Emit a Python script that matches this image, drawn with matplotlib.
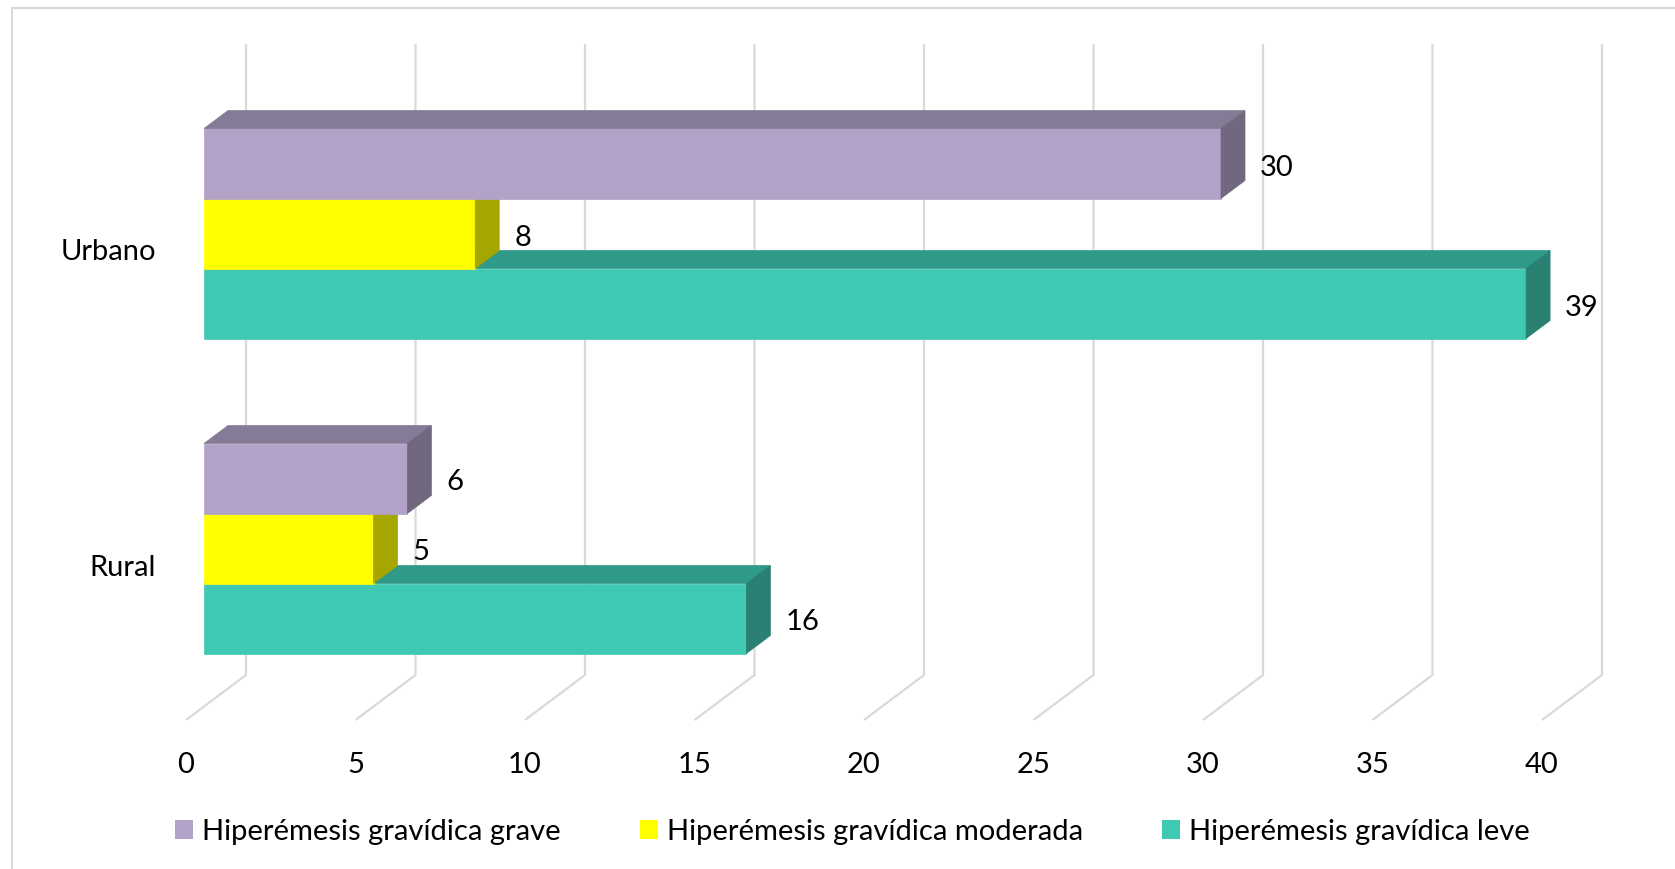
import numpy as np
import matplotlib.pyplot as plt
from matplotlib.patches import Polygon, Patch, Rectangle

plt.rcParams['font.family'] = ['Lato', 'DejaVu Sans']

# data
categories = ['Rural', 'Urbano']
series = ['Hiperémesis gravídica grave', 'Hiperémesis gravídica moderada',
          'Hiperémesis gravídica leve']
grave = [6, 30]
moderada = [5, 8]
leve = [16, 39]
xticks = np.arange(0, 45, 5)

# colours: front, top, side
col_grave = ('#B3A2C7', '#857B97', '#71687F')
col_mod = ('#FFFF00', '#CCCC00', '#A6A600')
col_leve = ('#40C9B2', '#2F9A88', '#2A8072')

W, H = 1675, 869
PX = 33.9          # pixels per unit on x
X0 = 204           # pixel of value 0 on front plane
Y0 = 548.5         # pixel of first category centre
DY = 315           # pixels between categories
FS = 21
TXT_DOWN = 4 / DY  # small text baseline correction

def py(p):
    # pixel row -> data y
    return (Y0 - p) / DY

h = 70 / DY
ddx, ddy = 24 / PX, 18 / DY

fig = plt.figure(figsize=(W / 100, H / 100), dpi=100)
ax = fig.add_axes([0, 0, 1, 1])
ax.set_xlim(-X0 / PX, (W - X0) / PX)
ax.set_ylim(py(H), py(0))
ax.axis('off')

# outer border
fig.patches.append(Rectangle((12 / W, 0 - 0.01), 1.0, 1 - 8 / H + 0.01,
                             transform=fig.transFigure, fill=False,
                             edgecolor='#D9D9D9', linewidth=1.5))

# back wall + floor grid lines
back = 42 / PX
front = -18 / PX
for t in xticks:
    ax.plot([t + back, t + back, t + front], [py(44), py(675), py(720)],
            color='#D9D9D9', lw=1.6, zorder=1, solid_capstyle='butt')
    ax.text(t + front, py(761) - TXT_DOWN, str(t), ha='center', va='center', fontsize=FS)

def bar3d(v, yc, cols, z):
    f, tp, sd = cols
    y1, y2 = yc - h / 2, yc + h / 2
    ax.add_patch(Polygon([(0, y1), (v, y1), (v, y2), (0, y2)], closed=True,
                         facecolor=f, edgecolor=f, lw=0.5, zorder=z))
    ax.add_patch(Polygon([(0, y2), (v, y2), (v + ddx, y2 + ddy), (ddx, y2 + ddy)],
                         closed=True, facecolor=tp, edgecolor=tp, lw=0.5, zorder=z))
    ax.add_patch(Polygon([(v, y1), (v + ddx, y1 + ddy), (v + ddx, y2 + ddy), (v, y2)],
                         closed=True, facecolor=sd, edgecolor=sd, lw=0.5, zorder=z))
    ax.text(v + ddx + 15 / PX, yc - TXT_DOWN, str(v), ha='left', va='center',
            fontsize=FS, zorder=10)

for i, cat in enumerate(categories):
    bar3d(leve[i], i - h, col_leve, 3)
    bar3d(moderada[i], i, col_mod, 4)
    bar3d(grave[i], i + h, col_grave, 5)
    ax.text(-48 / PX, i - 15 / DY - TXT_DOWN, cat, ha='right', va='center', fontsize=FS)

handles = [Patch(facecolor=c[0], edgecolor='none') for c in (col_grave, col_mod, col_leve)]
fig.legend(handles, series, loc='center', bbox_to_anchor=(0.509, 1 - 832 / H),
           ncol=3, frameon=False, fontsize=FS, handlelength=0.62, handleheight=0.62,
           handletextpad=0.3, columnspacing=2.72, borderaxespad=0, borderpad=0)

fig.savefig('out.png', dpi=100)
